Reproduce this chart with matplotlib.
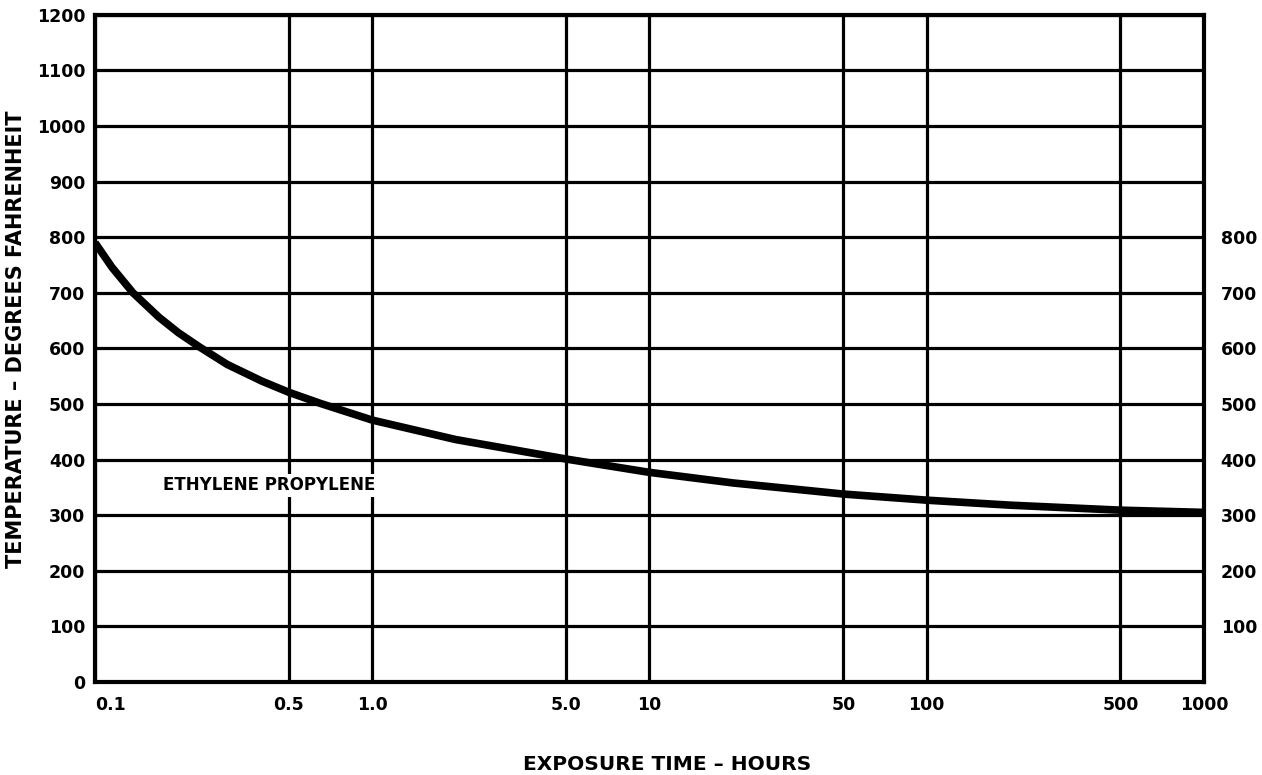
import matplotlib
matplotlib.use("Agg")
import matplotlib.pyplot as plt
from matplotlib.ticker import FixedLocator, FixedFormatter, NullLocator

# data
hours = [0.1, 0.115, 0.137, 0.17, 0.2, 0.239, 0.3, 0.4, 0.5, 0.65, 1.0,
         2.0, 5.0, 10, 20, 50, 100, 200, 500, 1000]
temp_f = [790, 746, 700, 656, 628, 602, 571, 541, 521, 501, 471,
          436, 401, 377, 358, 338, 327, 318, 309, 305]

x_ticks = [0.1, 0.5, 1.0, 5.0, 10, 50, 100, 500, 1000]
x_labels = ["0.1", "0.5", "1.0", "5.0", "10", "50", "100", "500", "1000"]
y_ticks = list(range(0, 1300, 100))
right_ticks = list(range(100, 900, 100))

plt.rcParams["font.family"] = ["DejaVu Sans"]
plt.rcParams["font.weight"] = "bold"

fig = plt.figure(figsize=(12.62, 7.75), dpi=100)
ax = fig.add_axes([0.0753, 0.12, 0.954 - 0.0753, 0.861])

ax.set_xscale("log")
ax.set_xlim(0.1, 1000)
ax.set_ylim(0, 1200)

ax.xaxis.set_major_locator(FixedLocator(x_ticks))
ax.xaxis.set_major_formatter(FixedFormatter(x_labels))
ax.xaxis.set_minor_locator(NullLocator())
ax.yaxis.set_major_locator(FixedLocator(y_ticks))

ax.grid(True, which="major", color="black", linewidth=2.3)
for s in ax.spines.values():
    s.set_linewidth(3)

ax.tick_params(axis="x", length=0, labelsize=12.5, pad=10)
ax.tick_params(axis="y", length=0, labelsize=12.5, pad=7)
# first x label sits just right of the spine
xl = ax.get_xticklabels()
xl[0].set_horizontalalignment("left")

ax.plot(hours, temp_f, color="black", linewidth=5.5, solid_capstyle="butt",
        solid_joinstyle="round", zorder=3)

# curve label, white box cuts the vertical grid lines like the original
ax.text(0.176, 354, "ETHYLENE PROPYLENE", fontsize=12, fontweight="bold",
        va="center", ha="left", zorder=4,
        bbox=dict(boxstyle="square,pad=0.15", facecolor="white", edgecolor="none"))

# right side labels
ax2 = ax.twinx()
ax2.set_ylim(0, 1200)
ax2.yaxis.set_major_locator(FixedLocator(right_ticks))
ax2.tick_params(axis="y", length=0, labelsize=12.5, pad=12)
for s in ax2.spines.values():
    s.set_visible(False)

ax.set_ylabel("TEMPERATURE \u2013 DEGREES FAHRENHEIT", fontsize=15, fontweight="bold")
ax.yaxis.set_label_coords(-0.062, 0.514)
ax.set_xlabel("EXPOSURE TIME \u2013 HOURS", fontsize=14.5, fontweight="bold")
ax.xaxis.set_label_coords(0.516, -0.11)

fig.savefig("out.png", dpi=100, facecolor="white")
